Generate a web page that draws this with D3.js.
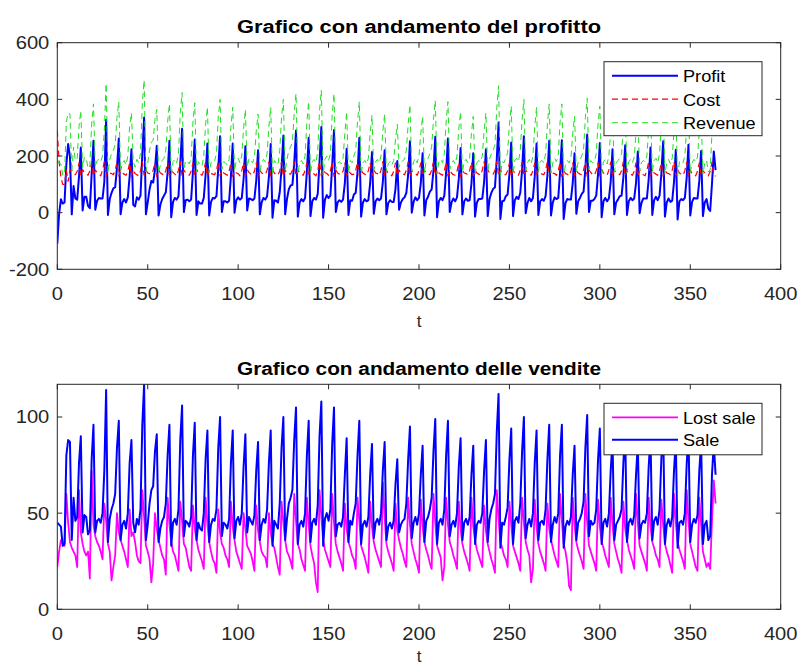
<!DOCTYPE html>
<html>
<head>
<meta charset="utf-8">
<script src="https://cdn.jsdelivr.net/npm/d3@7"></script>
<style>
  body { margin: 0; background: #fff; }
  svg { display: block; font-family: "Liberation Sans", Arial, sans-serif; }
</style>
</head>
<body>
<svg id="chart" width="800" height="668"></svg>
<script>
// daily series, t = 0..364 (one row = one week, peak on the last day)
const sale = [
  45,44,43,33,34,80,88,
  87,36,58,46,48,76,90,
  40,49,48,39,41,78,96,
  40,46,47,45,50,72,114,
  35,47,52,55,60,84,98,
  36,44,46,42,50,76,88,
  45,40,47,44,52,96,117,
  36,44,55,62,64,82,91,
  35,42,46,48,55,80,96,
  33,45,47,44,52,88,106,
  38,46,45,43,48,80,97,
  36,45,42,41,50,78,93,
  35,44,47,46,52,84,100,
  38,45,44,42,47,76,93,
  37,46,48,44,50,74,91,
  40,48,46,44,49,72,87,
  36,44,47,45,52,76,93,
  33,46,44,42,55,84,100,
  36,47,55,58,62,88,105,
  34,44,46,43,50,80,98,
  35,45,47,44,54,90,108,
  33,47,50,46,52,86,105,
  38,44,45,43,48,70,89,
  35,46,44,50,55,80,98,
  34,44,46,43,48,70,86,
  37,45,47,44,50,72,87,
  36,43,45,42,46,65,78,
  40,44,46,47,55,78,95,
  37,45,48,44,50,70,85,
  35,46,48,52,58,82,99,
  34,45,47,44,52,80,98,
  38,44,46,43,50,74,89,
  36,45,47,44,48,70,85,
  34,44,46,45,50,72,88,
  35,47,52,55,60,92,112,
  32,45,44,48,53,78,94,
  34,46,48,45,55,82,100,
  37,44,47,43,50,76,93,
  36,45,46,44,52,78,96,
  35,44,48,45,50,80,96,
  32,43,46,44,48,70,85,
  36,45,47,50,56,84,101,
  38,46,44,45,52,78,94,
  34,45,47,43,50,72,88,
  36,44,46,48,52,76,92,
  35,45,47,44,49,70,86,
  37,44,46,45,50,74,90,
  36,46,48,44,52,78,95,
  34,44,47,43,48,72,88,
  32,45,46,44,50,75,92,
  35,44,47,45,49,72,87,
  34,44,46,36,38,70,86,
  70
];

const lostSale = [
  22,30,36,34,33,60,45,
  35,32,30,28,22,62,40,
  34,30,28,30,16,72,44,
  38,35,33,30,26,55,46,
  34,30,15,22,28,50,40,
  36,33,30,26,22,52,38,
  40,35,28,25,24,62,48,
  33,30,26,14,24,50,42,
  36,32,28,26,18,58,44,
  35,30,28,24,20,56,46,
  34,32,27,22,20,54,42,
  36,31,28,25,21,58,44,
  35,30,26,24,19,52,40,
  34,32,28,26,22,56,43,
  36,30,27,24,21,50,42,
  33,31,29,25,20,54,41,
  35,30,28,27,22,50,40,
  34,32,27,22,18,56,45,
  36,30,28,25,21,60,46,
  34,31,26,23,20,58,44,
  33,28,24,14,9,62,48,
  36,31,28,25,22,60,45,
  34,30,27,24,20,55,42,
  35,32,28,26,21,58,46,
  33,30,27,23,19,56,43,
  35,31,28,25,22,66,48,
  34,30,27,24,20,55,41,
  36,32,29,25,22,58,44,
  34,30,26,23,19,57,43,
  35,31,28,24,21,60,45,
  33,30,27,15,22,58,44,
  35,32,28,25,21,56,42,
  34,30,27,24,20,58,43,
  36,31,28,25,22,54,41,
  34,30,26,23,19,62,47,
  35,32,28,26,22,56,44,
  33,30,27,24,20,58,45,
  35,31,28,14,21,57,43,
  34,30,27,24,20,55,42,
  36,32,28,25,22,60,46,
  34,30,24,12,10,58,44,
  35,31,28,25,21,60,45,
  33,30,27,24,20,57,43,
  35,32,28,25,22,58,44,
  34,30,26,23,19,56,42,
  36,31,28,25,21,60,45,
  33,30,27,24,20,58,43,
  35,32,28,26,22,57,44,
  34,30,27,23,19,60,45,
  35,31,28,25,21,62,46,
  34,30,26,22,20,58,44,
  30,26,22,24,21,46,67,
  55
];

const revenue = [
  180,176,172,132,136,320,352,
  348,144,232,184,192,304,360,
  160,196,192,156,164,312,384,
  160,184,188,180,200,288,456,
  140,188,208,220,240,336,392,
  144,176,184,168,200,304,352,
  180,160,188,176,208,384,468,
  144,176,220,248,256,328,364,
  140,168,184,192,220,320,384,
  132,180,188,176,208,352,424,
  152,184,180,172,192,320,388,
  144,180,168,164,200,312,372,
  140,176,188,184,208,336,400,
  152,180,176,168,188,304,372,
  148,184,192,176,200,296,364,
  160,192,184,176,196,288,348,
  144,176,188,180,208,304,372,
  132,184,176,168,220,336,400,
  144,188,220,232,248,352,420,
  136,176,184,172,200,320,392,
  140,180,188,176,216,360,432,
  132,188,200,184,208,344,420,
  152,176,180,172,192,280,356,
  140,184,176,200,220,320,392,
  136,176,184,172,192,280,344,
  148,180,188,176,200,288,348,
  144,172,180,168,184,260,312,
  160,176,184,188,220,312,380,
  148,180,192,176,200,280,340,
  140,184,192,208,232,328,396,
  136,180,188,176,208,320,392,
  152,176,184,172,200,296,356,
  144,180,188,176,192,280,340,
  136,176,184,180,200,288,352,
  140,188,208,220,240,368,448,
  128,180,176,192,212,312,376,
  136,184,192,180,220,328,400,
  148,176,188,172,200,304,372,
  144,180,184,176,208,312,384,
  140,176,192,180,200,320,384,
  128,172,184,176,192,280,340,
  144,180,188,200,224,336,404,
  152,184,176,180,208,312,376,
  136,180,188,172,200,288,352,
  144,176,184,192,208,304,368,
  140,180,188,176,196,280,344,
  148,176,184,180,200,296,360,
  144,184,192,176,208,312,380,
  136,176,188,172,192,288,352,
  128,180,184,176,200,300,368,
  140,176,188,180,196,288,348,
  136,176,184,144,152,280,344,
  280
];

const cost = [
  290,180,125,100,100,150,110,
  150,150,138,134,146,176,130,
  152,140,136,132,148,176,130,
  150,142,136,130,150,180,128,
  148,140,138,134,150,178,130,
  150,140,136,132,146,176,128,
  152,138,134,130,148,180,132,
  150,140,138,136,150,176,128,
  150,140,136,132,148,178,130,
  148,142,136,130,150,180,128,
  150,140,134,132,146,176,130,
  152,140,136,132,148,178,128,
  150,138,136,134,150,180,130,
  150,140,136,132,146,176,128,
  148,140,138,130,148,178,130,
  152,142,136,132,146,176,128,
  150,140,136,134,150,178,130,
  150,140,134,132,148,180,128,
  150,140,138,136,150,178,130,
  150,140,136,132,148,176,128,
  152,140,136,130,150,180,130,
  150,142,138,132,148,178,128,
  150,140,136,134,146,176,130,
  148,140,134,136,150,178,128,
  150,140,136,132,148,176,130,
  152,140,138,132,150,180,128,
  150,138,136,130,146,176,130,
  150,140,136,134,150,178,128,
  148,142,138,132,148,176,130,
  150,140,136,134,150,180,128,
  152,140,136,132,148,178,130,
  150,140,134,132,146,176,128,
  150,140,138,134,148,178,130,
  150,140,136,132,150,180,128,
  152,140,138,136,150,180,130,
  150,140,134,134,148,176,128,
  148,140,136,132,150,178,130,
  150,142,136,132,148,176,128,
  152,140,136,134,150,180,130,
  150,140,138,132,148,178,128,
  150,138,136,130,146,176,130,
  148,140,136,134,150,180,128,
  150,142,134,132,148,176,130,
  152,140,136,132,150,178,128,
  150,140,138,134,148,180,130,
  148,140,136,132,146,176,128,
  150,142,134,130,150,178,130,
  152,140,136,132,148,176,128,
  150,140,138,134,150,180,130,
  152,140,136,132,148,178,128,
  150,138,136,130,146,176,130,
  148,140,136,130,146,178,128,
  130
];

const profit = [
  -110,-4,47,32,36,170,242,
  198,-6,94,50,46,128,230,
  8,56,56,24,16,136,254,
  10,42,52,50,50,108,328,
  -8,48,70,86,90,158,262,
  -6,36,48,36,54,128,224,
  28,22,54,46,60,204,336,
  -6,36,82,112,106,152,236,
  -10,28,48,60,72,142,254,
  -16,38,52,46,58,172,296,
  2,44,46,40,46,144,258,
  -8,40,32,32,52,134,244,
  -10,38,52,50,58,156,270,
  2,40,40,36,42,128,244,
  0,44,54,46,52,118,234,
  8,50,48,44,50,112,220,
  -6,36,52,46,58,126,242,
  -18,44,42,36,72,156,272,
  -6,48,82,96,98,174,290,
  -14,36,48,40,52,144,264,
  -12,40,52,46,66,180,302,
  -18,46,62,52,60,166,292,
  2,36,44,38,46,104,226,
  -8,44,42,64,70,142,264,
  -14,36,48,40,44,104,214,
  -4,40,50,44,50,108,220,
  -6,34,44,38,38,84,182,
  10,36,48,54,70,134,252,
  0,38,54,44,52,104,210,
  -10,44,56,74,82,148,268,
  -16,40,52,44,60,142,262,
  2,36,50,40,54,120,228,
  -6,40,50,42,44,102,210,
  -14,36,48,48,50,108,224,
  -12,48,70,84,90,188,318,
  -22,40,42,58,64,136,248,
  -12,44,56,48,70,150,270,
  -2,34,52,40,52,128,244,
  -8,40,48,42,58,132,254,
  -10,36,54,48,52,142,256,
  -22,34,48,46,46,104,210,
  -4,40,52,66,74,156,276,
  2,42,42,48,60,136,246,
  -16,40,52,40,50,110,224,
  -6,36,46,58,60,124,238,
  -8,40,52,44,50,104,216,
  -2,34,50,50,50,118,230,
  -8,44,56,44,60,136,252,
  -14,36,50,38,42,108,222,
  -24,40,48,44,52,122,240,
  -10,38,52,50,50,112,218,
  -12,36,48,14,6,102,216,
  150
];

const days = d3.range(sale.length);
const xTicks = d3.range(0, 401, 50);
const topYTicks = [-200, 0, 200, 400, 600];
const bottomYTicks = [0, 50, 100];

const svg = d3.select("#chart");
const ink = "#262626";

// the reference text is a bit wider than Liberation Sans, stretch it
const stretch = (sel, f) => sel.each(function () {
  const w = this.getComputedTextLength();
  d3.select(this).attr("textLength", w * f).attr("lengthAdjust", "spacingAndGlyphs");
});

const panel = (top, bottom, yDomain, yTicks, title, titleY, labelY, series, rowGap, legendH) => {
  const x = d3.scaleLinear().domain([0, 400]).range([57.3, 780.7]);
  const y = d3.scaleLinear().domain(yDomain).range([bottom, top]);
  const g = svg.append("g");
  const clipId = "clip" + Math.round(top);

  g.append("clipPath").attr("id", clipId)
    .append("rect")
    .attr("x", x(0)).attr("y", top)
    .attr("width", x(400) - x(0)).attr("height", bottom - top);

  // series
  const plot = g.append("g").attr("clip-path", `url(#${clipId})`);
  series.forEach(s => {
    const line = d3.line().x((d, i) => x(days[i])).y(d => y(d));
    plot.append("path")
      .attr("d", line(s.values))
      .attr("fill", "none")
      .attr("stroke", s.color)
      .attr("stroke-width", s.width)
      .attr("stroke-dasharray", s.dash || null)
      .attr("stroke-linejoin", "round");
  });

  // box + ticks (inside, on all four sides like matlab)
  g.append("rect")
    .attr("x", x(0)).attr("y", top)
    .attr("width", x(400) - x(0)).attr("height", bottom - top)
    .attr("fill", "none").attr("stroke", ink).attr("stroke-width", 1);

  const tl = 5;
  xTicks.forEach(t => {
    g.append("line").attr("x1", x(t)).attr("x2", x(t)).attr("y1", bottom).attr("y2", bottom - tl)
      .attr("stroke", ink);
    g.append("line").attr("x1", x(t)).attr("x2", x(t)).attr("y1", top).attr("y2", top + tl)
      .attr("stroke", ink);
    g.append("text").attr("x", x(t)).attr("y", bottom + 31)
      .attr("text-anchor", "middle").attr("font-size", 17.5).attr("fill", ink).text(t)
      .call(stretch, 1.15);
  });
  yTicks.forEach(t => {
    g.append("line").attr("x1", x(0)).attr("x2", x(0) + tl).attr("y1", y(t)).attr("y2", y(t))
      .attr("stroke", ink);
    g.append("line").attr("x1", x(400)).attr("x2", x(400) - tl).attr("y1", y(t)).attr("y2", y(t))
      .attr("stroke", ink);
    g.append("text").attr("x", x(0) - 8).attr("y", y(t) + 6.5)
      .attr("text-anchor", "end").attr("font-size", 17.5).attr("fill", ink).text(t)
      .call(stretch, 1.15);
  });

  g.append("text").attr("x", (x(0) + x(400)) / 2).attr("y", labelY)
    .attr("text-anchor", "middle").attr("font-size", 17).attr("fill", ink).text("t");

  g.append("text").attr("x", (x(0) + x(400)) / 2).attr("y", titleY)
    .attr("text-anchor", "middle").attr("font-size", 17.5).attr("font-weight", "bold")
    .attr("fill", "#000").text(title)
    .each(function () {
      d3.select(this).attr("textLength", 364).attr("lengthAdjust", "spacingAndGlyphs");
    });

  // legend
  const lx = 604, ly = top + 19;
  g.append("rect").attr("x", lx).attr("y", ly).attr("width", 158).attr("height", legendH)
    .attr("fill", "#fff").attr("stroke", ink).attr("stroke-width", 1);
  series.forEach((s, i) => {
    const cy = ly + 14 + i * rowGap;
    g.append("line").attr("x1", lx + 8).attr("x2", lx + 74).attr("y1", cy).attr("y2", cy)
      .attr("stroke", s.color).attr("stroke-width", s.width)
      .attr("stroke-dasharray", s.dash || null);
    g.append("text").attr("x", lx + 79).attr("y", cy + 6.5)
      .attr("font-size", 16.5).attr("fill", "#000").text(s.name)
      .call(stretch, 1.1);
  });
};

const topSeries = [
  { name: "Profit", values: profit, color: "#0000ff", width: 2 },
  { name: "Cost", values: cost, color: "#ff0000", width: 1.2, dash: "6,4" },
  { name: "Revenue", values: revenue, color: "#22dd22", width: 1, dash: "6,4" },
];
const bottomSeries = [
  { name: "Lost sale", values: lostSale, color: "#ff00ff", width: 1.8 },
  { name: "Sale", values: sale, color: "#0000ff", width: 2 },
];

panel(42.7, 269.3, [-200, 600], topYTicks, "Grafico con andamento del profitto", 33, 327,
  topSeries, 23.5, 74);
panel(384.3, 609.3, [0, d3.max(sale)], bottomYTicks, "Grafico con andamento delle vendite", 375, 662,
  bottomSeries, 22.5, 51.5);
</script>
</body>
</html>
